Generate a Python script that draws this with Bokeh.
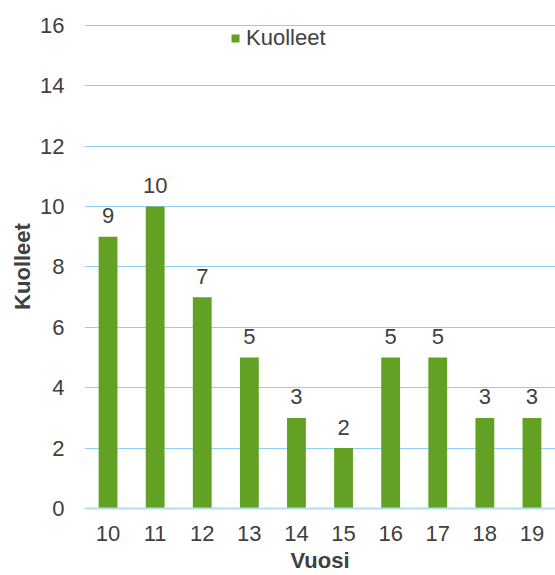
from bokeh.plotting import figure
from bokeh.models import ColumnDataSource, FactorRange, Range1d, Legend, LegendItem, FixedTicker
from bokeh.core.properties import value
from bokeh.embed import file_html
from bokeh.resources import INLINE

years = ["10", "11", "12", "13", "14", "15", "16", "17", "18", "19"]
deaths = [9, 10, 7, 5, 3, 2, 5, 5, 3, 3]
y_ticks = [0, 2, 4, 6, 8, 10, 12, 14, 16]

FONT = "Liberation Sans"
TXT = "#404040"
GREEN = "#63a124"
GRID = "#8fd1f6"
FS = "22px"

src = ColumnDataSource(dict(x=years, y=deaths, lbl=[str(v) for v in deaths]))

W, H = 555, 575
BL, BR, BT, BB = 84, 0, 24, 65
p = figure(width=W, height=H, x_range=FactorRange(*years), y_range=Range1d(0, 16.03),
           output_backend="svg", toolbar_location=None,
           min_border_left=BL, min_border_right=BR, min_border_top=BT, min_border_bottom=BB)
p.outline_line_color = None
p.background_fill_color = "white"
p.border_fill_color = "white"

r = p.vbar(x="x", top="y", width=0.4, source=src, fill_color=GREEN, line_color=None)
p.text(x="x", y="y", text="lbl", source=src, text_align="center", text_baseline="alphabetic",
       y_offset=-21, text_font=value(FONT), text_font_size=FS, text_color=TXT)

p.yaxis.ticker = FixedTicker(ticks=y_ticks)
p.ygrid.grid_line_color = GRID
p.ygrid.grid_line_width = 1
p.xgrid.grid_line_color = None

for ax in (p.xaxis[0], p.yaxis[0]):
    ax.major_tick_line_color = None
    ax.minor_tick_line_color = None
    ax.major_tick_out = 0
    ax.major_tick_in = 0
    ax.minor_tick_out = 0
    ax.major_label_text_font = FONT
    ax.major_label_text_font_size = FS
    ax.major_label_text_color = TXT
    ax.axis_label_text_font = FONT
    ax.axis_label_text_font_size = FS
    ax.axis_label_text_font_style = "bold"
    ax.axis_label_text_color = TXT

p.yaxis.axis_line_color = None
p.yaxis.major_label_standoff = 20
p.yaxis.axis_label = "Kuolleet"
p.yaxis.axis_label_standoff = 2
p.xaxis.axis_line_color = "#b4dcf5"
p.xaxis.axis_line_width = 2
p.xaxis.major_label_standoff = 17
p.xaxis.axis_label = "Vuosi"
p.xaxis.axis_label_standoff = 4

frame_h = H - BT - BB
legend = Legend(items=[LegendItem(label="Kuolleet", renderers=[r])],
                location=(146, frame_h - 29),
                orientation="horizontal", background_fill_alpha=0, border_line_color=None,
                glyph_width=10, glyph_height=10, label_text_font=FONT, label_text_font_size=FS,
                label_text_color=TXT, label_standoff=6, padding=0, margin=0, spacing=0)
p.add_layout(legend, "center")

open("out.html", "w").write(file_html(p, INLINE))
